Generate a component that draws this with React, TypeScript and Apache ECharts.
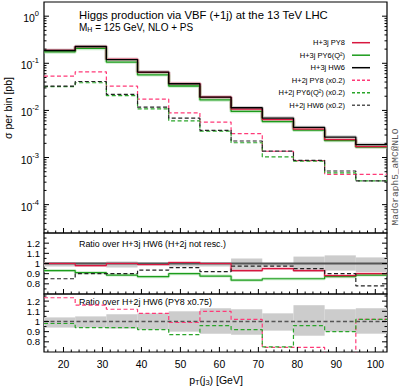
import React, { useEffect, useRef } from 'react';
import * as echarts from 'echarts';

const FONT = '"Liberation Sans", Arial, Helvetica, sans-serif';
const MONO = '"Liberation Mono", "DejaVu Sans Mono", monospace';

const binEdges = [15, 23, 31, 39, 47, 55, 63, 71, 79, 87, 95, 103];

// main panel, sigma per bin [pb]
const h3PY8 = [0.188, 0.225, 0.121, 0.064, 0.0372, 0.0191, 0.0106, 0.0064, 0.0040, 0.0024, 0.0017];
const h3PY6 = [0.174, 0.207, 0.106, 0.057, 0.033, 0.0167, 0.0095, 0.0058, 0.0038, 0.0023, 0.00167];
const h3HW6 = [0.187, 0.227, 0.120, 0.065, 0.0368, 0.0191, 0.0114, 0.00687, 0.00435, 0.00272, 0.00188];
const h2PY8 = [0.0533, 0.066, 0.0327, 0.0174, 0.0089, 0.00565, 0.0032, 0.00136, 0.00086, 0.00044, 0.00044];
const h2PY6 = [0.032, 0.0386, 0.0205, 0.0108, 0.0060, 0.00362, 0.00206, 0.00103, 0.00084, 0.00047, 0.00032];
const h2HW6 = [0.0327, 0.0411, 0.0218, 0.0117, 0.00687, 0.00377, 0.00224, 0.00137, 0.00087, 0.000518, 0.000318];

// ratio over H+3j HW6
const r1PY8 = [1.0, 0.98, 1.0, 0.99, 1.01, 1.0, 0.93, 0.95, 0.93, 0.88, 0.9];
const r1PY6 = [0.93, 0.91, 0.886, 0.87, 0.9, 0.876, 0.836, 0.85, 0.85, 0.87, 0.886];
const r1HW6 = [1, 1, 1, 1, 1, 1, 1, 1, 1, 1, 1];
const r1H2HW6 = [0.85, 0.9, 0.9, 0.935, 0.96, 0.92, 0.975, 0.975, 0.95, 0.9, 0.78];
const r1BandLo = [0.97, 0.97, 0.96, 0.975, 0.97, 0.97, 0.92, 0.97, 0.916, 0.93, 0.916];
const r1BandHi = [1.015, 1.015, 1.02, 1.01, 1.015, 1.0, 1.05, 1.0, 1.068, 1.08, 1.06];

// ratio over H+2j HW6
const r2PY8 = [1.233, 1.16, 1.12, 1.08, 0.99, 1.1, 1.02, 0.745, 0.745, 0.64, 1.02];
const r2PY6 = [0.98, 0.94, 0.94, 0.92, 0.87, 0.96, 0.92, 0.75, 0.96, 0.9, 1.02];
const r2HW6 = [1, 1, 1, 1, 1, 1, 1, 1, 1, 1, 1];
const r2BandLo = [0.94, 0.94, 0.93, 0.92, 0.9, 0.88, 0.87, 0.91, 0.86, 0.9, 0.88];
const r2BandHi = [1.04, 1.05, 1.07, 1.08, 1.1, 1.13, 1.12, 1.08, 1.16, 1.12, 1.13];

const xMajorTicks = [20, 30, 40, 50, 60, 70, 80, 90, 100];
const xMinorTicks = [16, 18, 22, 24, 26, 28, 32, 34, 36, 38, 42, 44, 46, 48, 52, 54, 56, 58, 62, 64, 66, 68, 72, 74, 76, 78, 82, 84, 86, 88, 92, 94, 96, 98, 102];
const logMajorTicks = [1e-4, 1e-3, 1e-2, 1e-1, 1];
const logMinorMult = [2, 3, 4, 5, 6, 7, 8, 9];
const ratioMajorTicks = [0.8, 0.9, 1.0, 1.1, 1.2];
const ratioMinorTicks = [0.75, 0.85, 0.95, 1.05, 1.15, 1.25];

const C_RED = '#d8173f';
const C_PINK = '#ff3a78';
const C_GREEN = '#1c9c1c';
const C_GREEN_D = '#2aa52a';
const C_BLACK = '#000000';

const X_MIN = 15;
const X_MAX = 103;
const Y_MIN = 2.5e-5;
const Y_MAX = 2;

function stepData(vals: number[]) {
  const pts: number[][] = vals.map((v, i) => [binEdges[i], v]);
  pts.push([binEdges[binEdges.length - 1], vals[vals.length - 1]]);
  return pts;
}

function stepLine(g: number, vals: number[], color: string, width: number, dashed: boolean, z = 3, opacity = 1) {
  return {
    type: 'line', xAxisIndex: g, yAxisIndex: g, data: stepData(vals), step: 'end',
    symbol: 'none', silent: true, z,
    lineStyle: { color, width, type: dashed ? [4, 2.5] : 'solid', opacity },
  };
}

function bandSeries(g: number, lo: number[], hi: number[], color: string) {
  return {
    type: 'custom', xAxisIndex: g, yAxisIndex: g, silent: true, z: 1,
    data: lo.map((l, i) => [binEdges[i], binEdges[i + 1], l, hi[i]]),
    encode: { x: [0, 1], y: [2, 3] },
    renderItem: (params: any, api: any) => {
      const p0 = api.coord([api.value(0), api.value(3)]);
      const p1 = api.coord([api.value(1), api.value(2)]);
      return {
        type: 'rect',
        shape: { x: p0[0], y: p0[1], width: p1[0] - p0[0], height: p1[1] - p0[1] },
        style: { fill: color },
      };
    },
  };
}

function tickSeries(g: number, yLo: number, yMajor: number[], yMinor: number[]) {
  return {
    type: 'custom', xAxisIndex: g, yAxisIndex: g, silent: true, z: 10, clip: false,
    data: [[X_MIN, yLo]],
    renderItem: (params: any, api: any) => {
      const ch: any[] = [];
      const add = (x1: number, y1: number, x2: number, y2: number) =>
        ch.push({ type: 'line', shape: { x1, y1, x2, y2 }, style: { stroke: '#000', lineWidth: 1 } });
      xMajorTicks.forEach((v) => { const p = api.coord([v, yLo]); add(p[0], p[1], p[0], p[1] - 5); });
      xMinorTicks.forEach((v) => { const p = api.coord([v, yLo]); add(p[0], p[1], p[0], p[1] - 2.5); });
      const yt = (v: number, len: number) => {
        const l = api.coord([X_MIN, v]);
        const r = api.coord([X_MAX, v]);
        add(l[0], l[1], l[0] + len, l[1]);
        add(r[0], r[1], r[0] - len, r[1]);
      };
      yMajor.forEach((v) => yt(v, 5));
      yMinor.forEach((v) => yt(v, 2.5));
      return { type: 'group', children: ch };
    },
  };
}

const logMinorTicks: number[] = [];
for (let k = -5; k <= 0; k++) {
  logMinorMult.forEach((m) => {
    const v = m * Math.pow(10, k);
    if (v > Y_MIN && v < Y_MAX) logMinorTicks.push(v);
  });
}

const supRich = {
  b: { fontFamily: FONT, fontSize: 10.5, color: '#000', padding: [4, 0, 0, 0] },
  s: { fontFamily: FONT, fontSize: 7.5, color: '#000', padding: [0, 0, 5, 0] },
};

export default function App() {
  const ref = useRef<HTMLDivElement>(null);
  useEffect(() => {
    if (!ref.current) return;
    const chart = echarts.init(ref.current, undefined, { renderer: 'svg' });
    const grids = [
      { left: 44, right: 12, top: 2, height: 231 },
      { left: 44, right: 12, top: 233, height: 61 },
      { left: 44, right: 12, top: 294, height: 58 },
    ].map((g) => ({ ...g, show: true, borderColor: '#000', borderWidth: 1.2, backgroundColor: 'transparent' }));

    const xAxes = [0, 1, 2].map((g) => ({
      type: 'value', gridIndex: g, min: X_MIN, max: X_MAX, splitNumber: 9,
      axisLine: { show: false }, axisTick: { show: false }, splitLine: { show: false },
      axisLabel: {
        show: g === 2, fontFamily: FONT, fontSize: 10.4, color: '#000', margin: 7,
        showMinLabel: false, showMaxLabel: false,
      },
    }));
    const ratioLabel = { fontFamily: FONT, fontSize: 9.6, lineHeight: 10, color: '#000', margin: 4, showMinLabel: false, showMaxLabel: false };
    const yAxes = [
      {
        type: 'log', gridIndex: 0, min: Y_MIN, max: Y_MAX, logBase: 10,
        axisLine: { show: false }, axisTick: { show: false }, splitLine: { show: false },
        axisLabel: {
          fontFamily: FONT, color: '#000', margin: 5, showMinLabel: false, showMaxLabel: false,
          formatter: (v: number) => `{b|10}{s|${Math.round(Math.log10(v))}}`,
          rich: supRich,
        },
      },
      {
        type: 'value', gridIndex: 1, min: 0.7, max: 1.3, interval: 0.1,
        axisLine: { show: false }, axisTick: { show: false }, splitLine: { show: false },
        axisLabel: ratioLabel,
      },
      {
        type: 'value', gridIndex: 2, min: 0.7, max: 1.27, interval: 0.1,
        axisLine: { show: false }, axisTick: { show: false }, splitLine: { show: false },
        axisLabel: ratioLabel,
      },
    ];

    const series: any[] = [
      // main panel shading
      stepLine(0, h3HW6, '#999999', 3.5, false, 2, 0.45),
      stepLine(0, h3PY8, '#f4879f', 3.5, false, 2, 0.45),
      stepLine(0, h3PY6, '#8fd88f', 3.5, false, 2, 0.45),
      stepLine(0, h3PY6, C_GREEN, 1.3, false, 4),
      stepLine(0, h3PY8, C_RED, 1.3, false, 4),
      stepLine(0, h3HW6, C_BLACK, 1.3, false, 5),
      stepLine(0, h2PY8, C_PINK, 1.2, true, 4),
      stepLine(0, h2PY6, C_GREEN_D, 1.2, true, 4),
      stepLine(0, h2HW6, '#222222', 1.2, true, 5),
      tickSeries(0, Y_MIN, logMajorTicks, logMinorTicks),
      // ratio 1
      bandSeries(1, r1BandLo, r1BandHi, '#cccccc'),
      stepLine(1, r1HW6, '#555555', 2, false, 3),
      stepLine(1, r1PY6, '#a0dca0', 3, false, 2, 0.55),
      stepLine(1, r1PY8, '#f4a0b4', 3, false, 2, 0.55),
      stepLine(1, r1PY6, C_GREEN, 1.2, false, 4),
      stepLine(1, r1PY8, C_RED, 1.2, false, 4),
      stepLine(1, r1H2HW6, '#222222', 1.2, true, 5),
      tickSeries(1, 0.7, ratioMajorTicks, ratioMinorTicks),
      // ratio 2
      bandSeries(2, r2BandLo, r2BandHi, '#cccccc'),
      stepLine(2, r2HW6, '#555555', 1.6, true, 3),
      stepLine(2, r2PY8, C_PINK, 1.2, true, 4),
      stepLine(2, r2PY6, C_GREEN_D, 1.2, true, 4),
      tickSeries(2, 0.7, ratioMajorTicks, ratioMinorTicks),
    ];

    const legendItems = [
      { label: 'H+3j PY8', color: C_RED, dashed: false },
      { label: 'H+3j PY6(Q²)', color: C_GREEN, dashed: false },
      { label: 'H+3j HW6', color: C_BLACK, dashed: false },
      { label: 'H+2j PY8 (x0.2)', color: C_PINK, dashed: true },
      { label: 'H+2j PY6(Q²) (x0.2)', color: C_GREEN_D, dashed: true },
      { label: 'H+2j HW6 (x0.2)', color: '#555555', dashed: true },
    ];
    const graphic: any[] = [];
    legendItems.forEach((it, i) => {
      const y = 42.7 + i * 12.5;
      graphic.push({
        type: 'text', x: 345, y, silent: true,
        style: { text: it.label, font: `7.5px ${FONT}`, fill: '#000', textAlign: 'right', textVerticalAlign: 'middle' },
      });
      graphic.push({
        type: 'line', silent: true,
        shape: { x1: 352, y1: y, x2: 370, y2: y },
        style: { stroke: it.color, lineWidth: 1.5, lineDash: it.dashed ? [3, 2] : null },
      });
    });
    graphic.push({
      type: 'text', x: 79, y: 15, silent: true,
      style: { text: 'Higgs production via VBF (+1j) at the 13 TeV LHC', font: `11.3px ${FONT}`, fill: '#000', textVerticalAlign: 'middle' },
    });
    graphic.push({
      type: 'text', x: 79, y: 27, silent: true,
      style: {
        text: '{a|M}{s|H}{a| = 125 GeV, NLO + PS}', textVerticalAlign: 'middle',
        rich: {
          a: { fontFamily: FONT, fontSize: 10, fill: '#000' },
          s: { fontFamily: FONT, fontSize: 7, fill: '#000', padding: [5, 0, 0, 0] },
        },
      },
    });
    graphic.push({
      type: 'text', x: 79, y: 244, silent: true,
      style: { text: 'Ratio over H+3j HW6 (H+2j not resc.)', font: `8.9px ${FONT}`, fill: '#000', textVerticalAlign: 'middle' },
    });
    graphic.push({
      type: 'text', x: 79, y: 302, silent: true,
      style: { text: 'Ratio over H+2j HW6 (PY8 x0.75)', font: `8.9px ${FONT}`, fill: '#000', textVerticalAlign: 'middle' },
    });
    graphic.push({
      type: 'text', x: 8, y: 108, rotation: Math.PI / 2, silent: true,
      style: { text: 'σ per bin [pb]', font: `10.5px ${FONT}`, fill: '#000', textAlign: 'center', textVerticalAlign: 'middle' },
    });
    graphic.push({
      type: 'text', x: 216, y: 380, silent: true,
      style: {
        text: '{a|p}{s|T}{a|(j}{s|3}{a|) [GeV]}', textAlign: 'center', textVerticalAlign: 'middle',
        rich: {
          a: { fontFamily: FONT, fontSize: 10.5, fill: '#000' },
          s: { fontFamily: FONT, fontSize: 7.5, fill: '#000', padding: [5, 0, 0, 0] },
        },
      },
    });
    graphic.push({
      type: 'text', x: 395, y: 177, rotation: Math.PI / 2, silent: true,
      style: { text: 'MadGraph5_aMC@NLO', font: `9.5px ${MONO}`, fill: '#555', textAlign: 'center', textVerticalAlign: 'middle' },
    });

    chart.setOption({
      animation: false,
      grid: grids,
      xAxis: xAxes,
      yAxis: yAxes,
      series,
      graphic,
    });
    return () => chart.dispose();
  }, []);
  return <div ref={ref} style={{ position: 'fixed', left: 0, top: 0, width: 399, height: 388, background: '#fff' }} />;
}
